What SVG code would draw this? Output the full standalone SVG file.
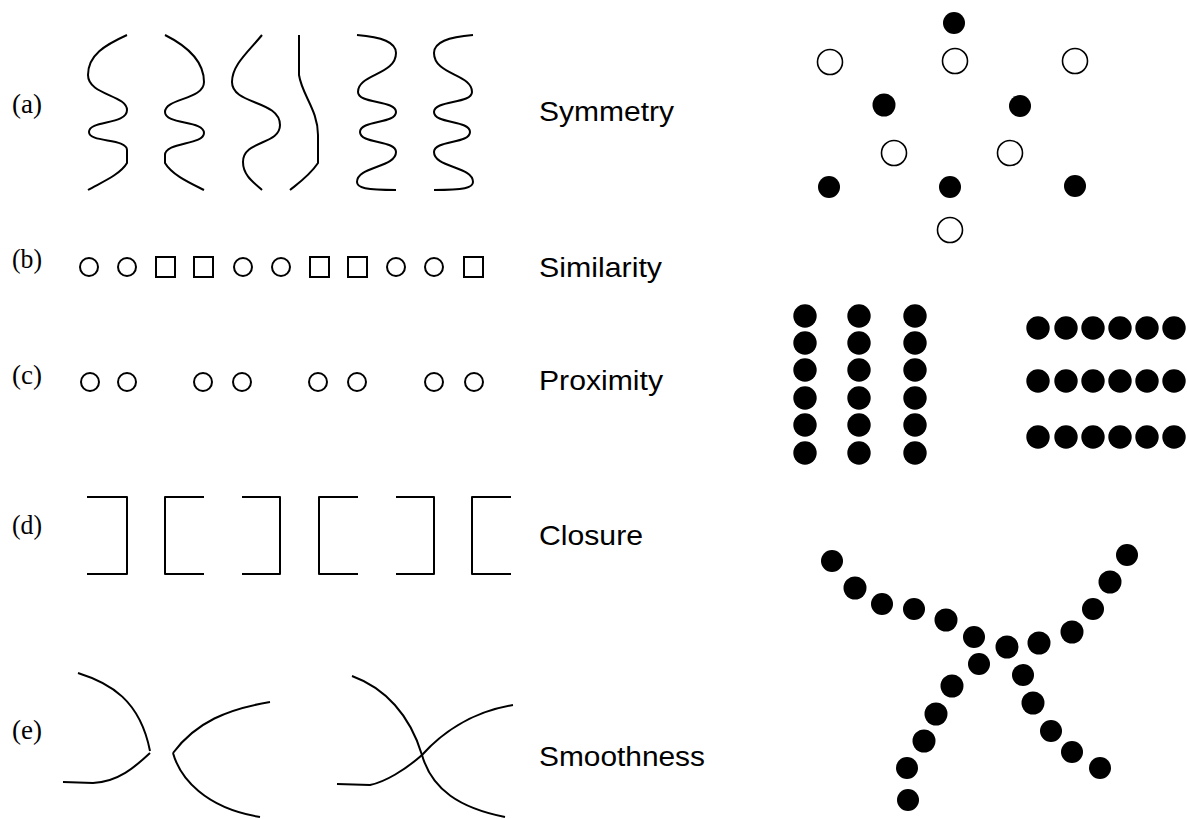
<svg xmlns="http://www.w3.org/2000/svg" width="1187" height="819" viewBox="0 0 1187 819">
<style>
.ln{fill:none;stroke:#000;stroke-width:2;stroke-linejoin:round;stroke-linecap:butt}
.oc{fill:#fff;stroke:#000;stroke-width:2}
.ro{fill:#fff;stroke:#000;stroke-width:1.6}
.fd{fill:#000}
.lab{font-family:"Liberation Serif","Times New Roman",serif;font-size:27px;fill:#000}
.nm{font-family:"Liberation Sans",Arial,sans-serif;font-size:27.5px;fill:#000}
</style>
<rect width="1187" height="819" fill="#fff"/>

<g id="row-a">
<text class="lab" x="12" y="113" textLength="30" lengthAdjust="spacingAndGlyphs">(a)</text>
<path class="ln" d="M127,35 C105,45 88,55 88,75 C88,95 127,95 127,110 C127,125 89,120 89,132 C89,143 127,138 127,150 L127,163 C120,175 100,183 88,190"/>
<path class="ln" d="M165,35 C185,45 204,60 204,82 C204,100 165,98 165,112 C165,125 204,120 204,133 C204,145 165,142 165,155 L165,163 C172,175 190,183 204,190"/>
<path class="ln" d="M262,35 C248,52 232,65 232,82 C232,105 280,100 280,125 C280,145 243,140 243,162 C243,175 253,182 262,190"/>
<path class="ln" d="M299,35 L299,75 C302,95 318,110 318,135 L318,163 C310,175 300,182 290,190"/>
<path class="ln" d="M357,35 C382,37 396,42 396,53 C396,75 358,74 358,92 C358,104 396,100 396,112 C396,124 360,120 360,132 C360,144 396,140 396,152 C396,168 357,166 357,182 C357,188 366,190 396,190"/>
<path class="ln" transform="translate(830,0) scale(-1,1)" d="M357,35 C382,37 396,42 396,53 C396,75 358,74 358,92 C358,104 396,100 396,112 C396,124 360,120 360,132 C360,144 396,140 396,152 C396,168 357,166 357,182 C357,188 366,190 396,190"/>
<text class="nm" x="539" y="121" textLength="135" lengthAdjust="spacingAndGlyphs">Symmetry</text>
</g>

<g id="row-b">
<text class="lab" x="12" y="268" textLength="30" lengthAdjust="spacingAndGlyphs">(b)</text>
<circle class="oc" cx="89" cy="267" r="9"/>
<circle class="oc" cx="127" cy="267" r="9"/>
<rect class="oc" x="156" y="257" width="19" height="20"/>
<rect class="oc" x="194" y="257" width="19" height="20"/>
<circle class="oc" cx="243" cy="267" r="9"/>
<circle class="oc" cx="281" cy="267" r="9"/>
<rect class="oc" x="310" y="257" width="19" height="20"/>
<rect class="oc" x="348" y="257" width="19" height="20"/>
<circle class="oc" cx="396" cy="267" r="9"/>
<circle class="oc" cx="434" cy="267" r="9"/>
<rect class="oc" x="464" y="257" width="19" height="20"/>
<text class="nm" x="539" y="277" textLength="123" lengthAdjust="spacingAndGlyphs">Similarity</text>
</g>

<g id="row-c">
<text class="lab" x="12" y="384" textLength="30" lengthAdjust="spacingAndGlyphs">(c)</text>
<circle class="oc" cx="90" cy="382" r="9"/>
<circle class="oc" cx="127" cy="382" r="9"/>
<circle class="oc" cx="203" cy="382" r="9"/>
<circle class="oc" cx="242" cy="382" r="9"/>
<circle class="oc" cx="318" cy="382" r="9"/>
<circle class="oc" cx="357" cy="382" r="9"/>
<circle class="oc" cx="434" cy="382" r="9"/>
<circle class="oc" cx="474" cy="382" r="9"/>
<text class="nm" x="539" y="390" textLength="124" lengthAdjust="spacingAndGlyphs">Proximity</text>
</g>

<g id="row-d">
<text class="lab" x="12" y="534" textLength="30" lengthAdjust="spacingAndGlyphs">(d)</text>
<path class="ln" d="M87,497 H127 V574 H87"/>
<path class="ln" d="M204,497 H165 V574 H204"/>
<path class="ln" d="M242,497 H280 V574 H242"/>
<path class="ln" d="M358,497 H319 V574 H358"/>
<path class="ln" d="M396,497 H434 V574 H396"/>
<path class="ln" d="M511,497 H472 V574 H511"/>
<text class="nm" x="539" y="545" textLength="104" lengthAdjust="spacingAndGlyphs">Closure</text>
</g>

<g id="row-e">
<text class="lab" x="12" y="739" textLength="30" lengthAdjust="spacingAndGlyphs">(e)</text>
<path class="ln" d="M78,673 C110,683 140,700 150,751"/>
<path class="ln" d="M150,753 C135,767 118,782 93,783 L63,782"/>
<path class="ln" d="M270,702 C228,709 196,722 173,753"/>
<path class="ln" d="M173,753 C180,778 205,808 260,817"/>
<path class="ln" d="M352,676 C385,688 410,715 422,755 C432,790 460,808 505,817"/>
<path class="ln" d="M337,784 L370,785 C385,782 405,770 422,755 C440,735 470,712 513,705"/>
<text class="nm" x="539" y="766" textLength="166" lengthAdjust="spacingAndGlyphs">Smoothness</text>
</g>

<g id="symmetry-dots">
<circle class="fd" cx="954" cy="23" r="11"/>
<circle class="ro" cx="830" cy="62" r="12.5"/>
<circle class="ro" cx="955" cy="61" r="12.5"/>
<circle class="ro" cx="1075" cy="61" r="12.5"/>
<circle class="fd" cx="884" cy="105" r="11.5"/>
<circle class="fd" cx="1020" cy="106" r="11"/>
<circle class="ro" cx="894" cy="153" r="12.5"/>
<circle class="ro" cx="1010" cy="153" r="12.5"/>
<circle class="fd" cx="829" cy="187" r="11"/>
<circle class="fd" cx="950" cy="187" r="11"/>
<circle class="fd" cx="1075" cy="186" r="11"/>
<circle class="ro" cx="950" cy="230" r="12.5"/>
</g>

<g id="proximity-grids" class="fd">
<g id="columns">
<circle cx="805" cy="316" r="11.7"/><circle cx="805" cy="343" r="11.7"/><circle cx="805" cy="370" r="11.7"/><circle cx="805" cy="398" r="11.7"/><circle cx="805" cy="425" r="11.7"/><circle cx="805" cy="453" r="11.7"/>
<circle cx="859" cy="316" r="11.7"/><circle cx="859" cy="343" r="11.7"/><circle cx="859" cy="370" r="11.7"/><circle cx="859" cy="398" r="11.7"/><circle cx="859" cy="425" r="11.7"/><circle cx="859" cy="453" r="11.7"/>
<circle cx="915" cy="316" r="11.7"/><circle cx="915" cy="343" r="11.7"/><circle cx="915" cy="370" r="11.7"/><circle cx="915" cy="398" r="11.7"/><circle cx="915" cy="425" r="11.7"/><circle cx="915" cy="453" r="11.7"/>
</g>
<g id="rows">
<circle cx="1038" cy="328" r="11.7"/><circle cx="1066" cy="328" r="11.7"/><circle cx="1093" cy="328" r="11.7"/><circle cx="1120" cy="328" r="11.7"/><circle cx="1147" cy="328" r="11.7"/><circle cx="1174" cy="328" r="11.7"/>
<circle cx="1038" cy="381" r="11.7"/><circle cx="1066" cy="381" r="11.7"/><circle cx="1093" cy="381" r="11.7"/><circle cx="1120" cy="381" r="11.7"/><circle cx="1147" cy="381" r="11.7"/><circle cx="1174" cy="381" r="11.7"/>
<circle cx="1038" cy="437" r="11.7"/><circle cx="1066" cy="437" r="11.7"/><circle cx="1093" cy="437" r="11.7"/><circle cx="1120" cy="437" r="11.7"/><circle cx="1147" cy="437" r="11.7"/><circle cx="1174" cy="437" r="11.7"/>
</g>
</g>

<g id="smoothness-dots" class="fd">
<circle cx="832" cy="561" r="11"/>
<circle cx="855" cy="588" r="11.5"/>
<circle cx="882" cy="604" r="11"/>
<circle cx="914" cy="609" r="11"/>
<circle cx="946" cy="620" r="11.5"/>
<circle cx="974" cy="637" r="11"/>
<circle cx="1007" cy="647" r="11.5"/>
<circle cx="1023" cy="675" r="11"/>
<circle cx="1033" cy="703" r="11.5"/>
<circle cx="1051" cy="731" r="11"/>
<circle cx="1072" cy="752" r="11"/>
<circle cx="1100" cy="768" r="11"/>
<circle cx="1127" cy="555" r="11"/>
<circle cx="1110" cy="582" r="11.5"/>
<circle cx="1093" cy="609" r="11"/>
<circle cx="1072" cy="632" r="11.5"/>
<circle cx="1039" cy="643" r="11.5"/>
<circle cx="979" cy="664" r="11"/>
<circle cx="952" cy="686" r="11.5"/>
<circle cx="936" cy="714" r="11.5"/>
<circle cx="924" cy="741" r="11.5"/>
<circle cx="907" cy="768" r="11"/>
<circle cx="908" cy="800" r="11"/>
</g>
</svg>
